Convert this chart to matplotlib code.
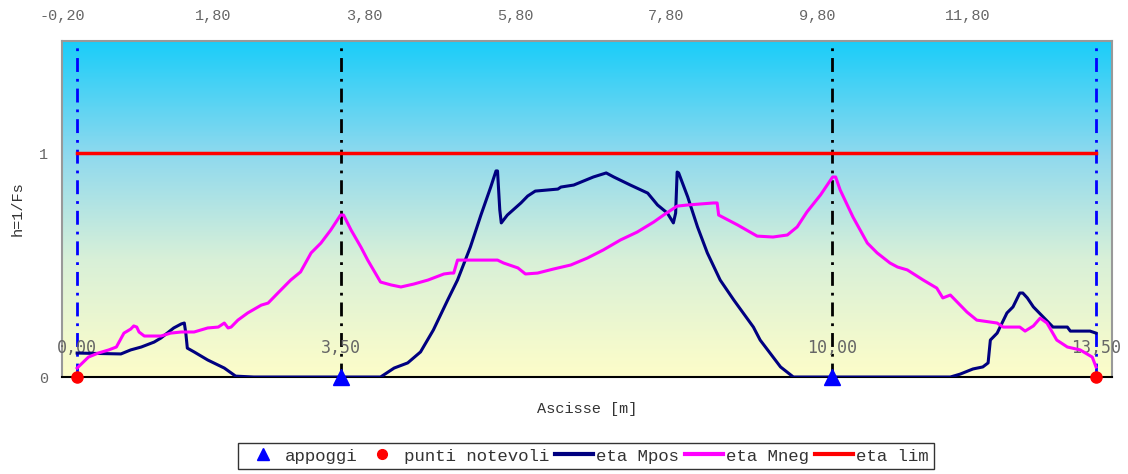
import numpy as np
import matplotlib
matplotlib.use("Agg")
import matplotlib.pyplot as plt
from matplotlib.colors import LinearSegmentedColormap

# supports and notable points
appoggi_x = [3.5, 10.0]
notevoli_x = [0.0, 13.5]
vline_x = [0.0, 3.5, 10.0, 13.5]
vline_colors = ["blue", "black", "black", "blue"]
vline_labels = ["0,00", "3,50", "10,00", "13,50"]

top_ticks = [-0.2, 1.8, 3.8, 5.8, 7.8, 9.8, 11.8]
top_labels = ["-0,20", "1,80", "3,80", "5,80", "7,80", "9,80", "11,80"]

eta_lim = 1.0

mpos_x = [0.00, 0.58, 0.71, 0.85, 1.02, 1.11, 1.28, 1.38, 1.42, 1.44, 1.46, 1.55,
          1.73, 1.95, 2.10, 2.34, 4.02, 4.20, 4.38, 4.55, 4.72, 4.91, 5.04, 5.21,
          5.35, 5.48, 5.55, 5.57, 5.60, 5.62, 5.70, 5.88, 5.97, 6.07, 6.37, 6.41,
          6.58, 6.71, 6.84, 7.01, 7.11, 7.33, 7.56, 7.69, 7.82, 7.90, 7.93, 7.95,
          7.97, 8.09, 8.22, 8.35, 8.52, 8.70, 8.96, 9.05, 9.32, 9.49, 11.57, 11.70,
          11.87, 12.00, 12.07, 12.10, 12.19, 12.32, 12.40, 12.49, 12.53, 12.59,
          12.67, 12.80, 12.93, 13.12, 13.16, 13.42, 13.50]
mpos_y = [0.107, 0.103, 0.121, 0.134, 0.156, 0.174, 0.219, 0.237, 0.241, 0.196,
          0.129, 0.112, 0.076, 0.040, 0.004, 0.0, 0.0, 0.040, 0.063, 0.112, 0.210,
          0.344, 0.433, 0.580, 0.723, 0.848, 0.920, 0.920, 0.746, 0.688, 0.723,
          0.777, 0.808, 0.830, 0.839, 0.848, 0.857, 0.875, 0.893, 0.911, 0.893,
          0.857, 0.821, 0.768, 0.732, 0.688, 0.732, 0.915, 0.911, 0.804, 0.670,
          0.554, 0.433, 0.344, 0.223, 0.165, 0.045, 0.0, 0.0, 0.013, 0.036, 0.045,
          0.063, 0.165, 0.196, 0.286, 0.313, 0.375, 0.375, 0.353, 0.313, 0.268,
          0.223, 0.223, 0.205, 0.205, 0.196]

mneg_x = [0.00, 0.15, 0.28, 0.42, 0.52, 0.62, 0.71, 0.75, 0.79, 0.82, 0.89, 1.11,
          1.24, 1.38, 1.55, 1.73, 1.87, 1.95, 2.00, 2.04, 2.13, 2.26, 2.44, 2.53,
          2.66, 2.83, 2.96, 3.10, 3.23, 3.36, 3.49, 3.53, 3.63, 3.76, 3.85, 4.02,
          4.16, 4.29, 4.46, 4.65, 4.86, 4.95, 4.99, 5.04, 5.57, 5.65, 5.84, 5.94,
          6.10, 6.31, 6.54, 6.76, 6.97, 7.20, 7.42, 7.64, 7.77, 7.95, 8.09, 8.43,
          8.48, 8.50, 8.75, 9.01, 9.22, 9.41, 9.54, 9.67, 9.85, 10.01, 10.05, 10.11,
          10.28, 10.47, 10.60, 10.77, 10.87, 11.00, 11.21, 11.39, 11.47, 11.57,
          11.79, 11.92, 12.19, 12.27, 12.49, 12.56, 12.67, 12.76, 12.85, 12.98,
          13.12, 13.29, 13.45, 13.50]
mneg_y = [0.040, 0.089, 0.107, 0.121, 0.134, 0.196, 0.214, 0.228, 0.223, 0.201,
          0.183, 0.183, 0.196, 0.201, 0.201, 0.219, 0.223, 0.241, 0.219, 0.223,
          0.254, 0.286, 0.321, 0.330, 0.375, 0.433, 0.469, 0.554, 0.598, 0.656,
          0.723, 0.723, 0.656, 0.580, 0.522, 0.424, 0.411, 0.402, 0.415, 0.433,
          0.460, 0.464, 0.464, 0.522, 0.522, 0.509, 0.487, 0.460, 0.464, 0.482,
          0.500, 0.531, 0.567, 0.612, 0.647, 0.692, 0.723, 0.763, 0.768, 0.777,
          0.777, 0.723, 0.679, 0.629, 0.625, 0.634, 0.670, 0.737, 0.813, 0.893,
          0.893, 0.835, 0.714, 0.598, 0.554, 0.509, 0.491, 0.478, 0.433, 0.397,
          0.353, 0.366, 0.290, 0.254, 0.241, 0.223, 0.223, 0.205, 0.228, 0.263,
          0.241, 0.165, 0.134, 0.121, 0.089, 0.045]

mono = "Liberation Mono"
grey = "#666666"

fig = plt.figure(figsize=(11.28, 4.74), dpi=100)
ax = fig.add_axes([0.055, 0.2046, 0.9307, 0.7089])
ax.set_xlim(-0.2, 13.71)
ax.set_ylim(0, 1.5)

# gradient background
cmap = LinearSegmentedColormap.from_list(
    "bg", [(0.0, "#fdfdc9"), (0.35, "#d8f0d8"), (0.66, "#8fd9ee"), (1.0, "#19cdf9")])
grad = np.linspace(0, 1, 256).reshape(-1, 1)
ax.imshow(grad, cmap=cmap, origin="lower", aspect="auto",
          extent=[0, 1, 0, 1], transform=ax.transAxes, zorder=0)

for x, c, lab in zip(vline_x, vline_colors, vline_labels):
    ax.axvline(x, color=c, lw=2, ls=(0, (5, 2.5, 1, 2.5)), zorder=2)
    ax.text(x, 0.13, lab, ha="center", va="center", color=grey,
            fontsize=12, family="DejaVu Sans Mono", zorder=3)

ax.plot([0, 13.5], [eta_lim, eta_lim], color="red", lw=2.5, zorder=4)
ax.plot(mpos_x, mpos_y, color="#000080", lw=2.2, zorder=5)
ax.plot(mneg_x, mneg_y, color="#ff00ff", lw=2.2, zorder=5)
ax.plot(appoggi_x, [0] * len(appoggi_x), ls="none", marker="^", ms=12,
        color="blue", clip_on=False, zorder=6)
ax.plot(notevoli_x, [0] * len(notevoli_x), ls="none", marker="o", ms=8,
        color="red", clip_on=False, zorder=6)

ax.xaxis.set_ticks_position("top")
ax.set_xticks(top_ticks)
ax.set_xticklabels(top_labels, family=mono, fontsize=11, color=grey)
ax.tick_params(axis="x", length=0, pad=13)
ax.set_yticks([0, 1])
ax.set_yticklabels(["0", "1"], family=mono, fontsize=11, color=grey)
ax.tick_params(axis="y", length=0, pad=10)

ax.set_xlabel("Ascisse [m]", family=mono, fontsize=11, color="#333333", labelpad=0)
ax.xaxis.set_label_position("bottom")
ax.xaxis.set_label_coords(0.5, -0.075)
ax.set_ylabel("h=1/Fs", family=mono, fontsize=11, color="#333333")
ax.yaxis.set_label_coords(-0.036, 0.5)

for s in ["left", "top", "right"]:
    ax.spines[s].set_color("#999999")
    ax.spines[s].set_linewidth(1.5)
ax.spines["bottom"].set_color("black")
ax.spines["bottom"].set_linewidth(1.5)

h1, = ax.plot([], [], ls="none", marker="^", ms=9, color="blue")
h2, = ax.plot([], [], ls="none", marker="o", ms=7, color="red")
h3, = ax.plot([], [], color="#000080", lw=3)
h4, = ax.plot([], [], color="#ff00ff", lw=3)
h5, = ax.plot([], [], color="red", lw=3)
leg = fig.legend([h1, h2, h3, h4, h5],
                 ["appoggi", "punti notevoli", "eta Mpos", "eta Mneg", "eta lim"],
                 loc="center", bbox_to_anchor=(0.5195, 0.038), ncol=5,
                 prop={"family": mono, "size": 12.5}, frameon=True, fancybox=False,
                 handlelength=2.2, handletextpad=0.15, columnspacing=0.35,
                 borderpad=0.3, borderaxespad=0, edgecolor="black")
leg.get_frame().set_linewidth(1.0)
for t in leg.get_texts():
    t.set_color("#333333")

fig.savefig("out.png", dpi=100)
